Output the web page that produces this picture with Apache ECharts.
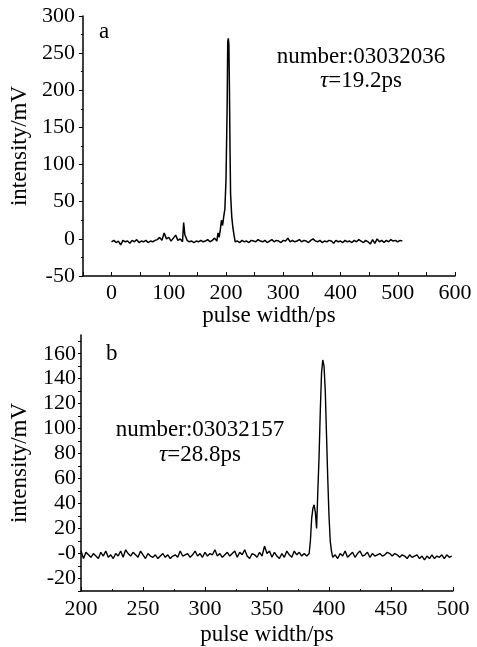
<!DOCTYPE html>
<html><head><meta charset="utf-8">
<script src="https://cdn.jsdelivr.net/npm/echarts@6/dist/echarts.min.js"></script>
<style>html,body{margin:0;padding:0;background:#fff}#c{width:477px;height:647px}</style>
</head><body><div id="c"></div>
<script>
// Panel a data (pulse width / ps, intensity / mV)
const aX = [0,4,8,12,16,20,24,28,32,36,40,44,48,52,56,60,64,68,72,76,80,84,88,92,96,100,104,108,112,116,120,124,126,128,132,136,140,144,148,152,156,160,164,168,172,176,180,184,186,188,190,192,194,196,198,200,202,203,204,205,206,207,208,210,212,214,216,220,224,228,232,236,240,244,248,252,256,260,264,268,272,276,280,284,288,292,296,300,304,308,312,316,320,324,328,332,336,340,344,348,352,356,360,364,368,372,376,380,384,388,392,396,400,404,408,412,416,420,424,428,432,436,440,444,448,452,456,460,464,468,472,476,480,484,488,492,496,500,504,508];
const aY = [-4,-2,-5,-3,-8,-2,-4,-3,-6,-2,-4,-1,-5,-3,-4,-2,-5,-3,-4,-2,-1,2,-2,8,0,2,-3,1,5,-2,0,-4,22,6,-2,-4,-3,-5,-3,-4,-2,-4,-3,-1,-4,-2,1,-3,8,2,12,25,18,30,40,80,180,265,270,262,200,120,60,30,15,5,-4,-3,-5,-2,-4,-3,-5,-2,-3,-4,-1,-3,-4,-2,-5,-3,-1,-4,-2,-3,-5,-2,-3,1,-4,-2,-4,-3,-1,-4,-2,-3,-5,-2,0,-3,-4,-2,-5,-3,-4,-2,-3,-6,-2,-4,-3,-5,-2,-4,-3,-5,-2,-4,-1,-3,-5,-2,-4,-7,-1,-6,0,-4,-2,-5,-2,-4,-1,-3,-2,-4,-2,-3];
// Panel b data
const bX = [200,202,204,206,208,210,212,214,216,218,220,222,224,226,228,230,232,234,236,238,240,242,244,246,248,250,252,254,256,258,260,262,264,266,268,270,272,274,276,278,280,282,284,286,288,290,292,294,296,298,300,302,304,306,308,310,312,314,316,318,320,322,324,326,328,330,332,334,336,338,340,342,344,346,348,350,352,354,356,358,360,362,364,366,368,370,372,374,376,378,380,382,384,385,386,387,388,389,390,391,392,393,394,395,396,397,398,399,400,401,402,403,405,407,409,411,413,415,417,419,421,423,425,427,429,431,433,435,437,439,441,443,445,447,449,451,453,455,457,459,461,463,465,467,469,471,473,475,477,479,481,483,485,487,489,491,493,495,497,499];
const bY = [2,-4,1,-1,-3,0,-2,-4,1,-2,2,-3,-1,-4,0,-2,2,-3,3,0,-2,1,-1,-3,2,-1,-4,0,-2,-3,-1,-4,-2,0,-3,-1,-4,-2,-1,-3,2,-2,-1,0,-3,-1,2,-2,0,-3,1,-2,0,-1,3,-2,0,-3,-1,1,-2,0,2,-3,1,-1,3,-2,-4,0,-1,-3,1,-2,6,0,2,-3,1,-2,-4,0,-3,2,-1,-3,2,-1,1,-2,0,-2,0,10,28,36,39,33,20,50,78,115,145,155,150,130,95,60,30,10,2,-3,-1,-4,0,-2,2,-3,-1,1,-3,0,2,-2,-1,1,-3,0,-2,-1,0,-2,-1,1,0,-2,0,-1,-3,-1,-2,-4,-1,-3,-2,-1,-4,-2,-5,-2,-4,-1,-4,-2,-3,-1,-4,-1,-3,-2];
const xLabel = 'pulse width/ps';
const yLabel = 'intensity/mV';

const F = 'Liberation Serif';
const pairs = (xs, ys) => xs.map((x, i) => [x, ys[i]]);
const chart = echarts.init(document.getElementById('c'), null, {renderer: 'canvas'});
const axisLine = {show: true, onZero: false, lineStyle: {color: '#000', width: 1.5}};
const lbl = {color: '#000', fontFamily: F, fontSize: 22};
const nm = {color: '#000', fontFamily: F, fontSize: 23};
const font = '23px "Liberation Serif"';
chart.setOption({
  animation: false,
  backgroundColor: '#fff',
  grid: [
    {left: 82, right: 22, top: 16, height: 260},
    {left: 81, right: 24, top: 335, height: 259}
  ],
  xAxis: [
    {gridIndex: 0, type: 'value', min: -50, max: 600, interval: 50,
     name: xLabel, nameLocation: 'middle', nameGap: 26, nameTextStyle: nm,
     axisLine, splitLine: {show: false},
     axisTick: {inside: true, length: 4, lineStyle: {color: '#000'}},
     axisLabel: Object.assign({margin: 6, formatter: v => (v % 100 === 0 ? String(v) : '')}, lbl)},
    {gridIndex: 1, type: 'value', min: 200, max: 500, interval: 50,
     name: xLabel, nameLocation: 'middle', nameGap: 32, nameTextStyle: nm,
     axisLine, splitLine: {show: false},
     axisTick: {inside: true, length: 4, lineStyle: {color: '#000'}},
     minorTick: {show: true, splitNumber: 2, length: 2, lineStyle: {color: '#000'}},
     axisLabel: Object.assign({margin: 7}, lbl)}
  ],
  yAxis: [
    {gridIndex: 0, type: 'value', min: -50, max: 300, interval: 50,
     name: yLabel, nameLocation: 'middle', nameGap: 48, nameTextStyle: nm,
     axisLine, splitLine: {show: false},
     axisTick: {length: 4, lineStyle: {color: '#000'}},
     minorTick: {show: true, splitNumber: 2, length: 2, lineStyle: {color: '#000'}},
     axisLabel: Object.assign({margin: 8}, lbl)},
    {gridIndex: 1, type: 'value', min: -30, max: 175, interval: 10,
     name: yLabel, nameLocation: 'middle', nameGap: 50, nameTextStyle: nm,
     axisLine, splitLine: {show: false},
     axisTick: {length: 3, lineStyle: {color: '#000'}},
     axisLabel: Object.assign({margin: 5, showMaxLabel: false, formatter: v => (v === 0 ? '-0' : (v % 20 === 0 ? String(v) : ''))}, lbl)}
  ],
  series: [
    {type: 'line', xAxisIndex: 0, yAxisIndex: 0, data: pairs(aX, aY), showSymbol: false,
     lineStyle: {color: '#000', width: 1.5}},
    {type: 'line', xAxisIndex: 1, yAxisIndex: 1, data: pairs(bX, bY), showSymbol: false,
     lineStyle: {color: '#000', width: 1.4}}
  ],
  graphic: [
    {type: 'text', x: 99, y: 32, style: {text: 'a', font, fill: '#000', verticalAlign: 'middle'}},
    {type: 'text', x: 106, y: 354, style: {text: 'b', font, fill: '#000', verticalAlign: 'middle'}},
    {type: 'text', x: 361, y: 57, style: {text: 'number:03032036', font, fill: '#000', align: 'center', verticalAlign: 'middle'}},
    {type: 'text', x: 361, y: 81, style: {text: '{i|τ}=19.2ps', font, fill: '#000', align: 'center', verticalAlign: 'middle',
      rich: {i: {fontStyle: 'italic', fontFamily: F, fontSize: 23}}}},
    {type: 'text', x: 200, y: 430, style: {text: 'number:03032157', font, fill: '#000', align: 'center', verticalAlign: 'middle'}},
    {type: 'text', x: 200, y: 455, style: {text: '{i|τ}=28.8ps', font, fill: '#000', align: 'center', verticalAlign: 'middle',
      rich: {i: {fontStyle: 'italic', fontFamily: F, fontSize: 23}}}}
  ]
});
</script></body></html>
